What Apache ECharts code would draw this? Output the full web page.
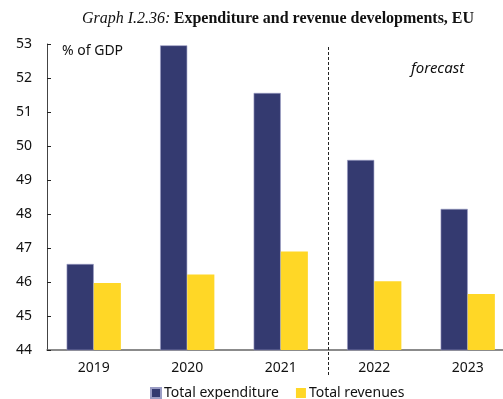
<!DOCTYPE html>
<html><head><meta charset="utf-8">
<script src="https://cdn.jsdelivr.net/npm/echarts@6/dist/echarts.min.js"></script>
<style>html,body{margin:0;padding:0;background:#fff}#c{width:503px;height:399px}</style>
</head><body><div id="c"></div>
<script>
const categories = ['2019','2020','2021','2022','2023'];
const expenditure = [46.53, 52.96, 51.56, 49.59, 48.15];
const revenues = [45.97, 46.22, 46.90, 46.02, 45.65];
const seriesNames = ['Total expenditure','Total revenues'];
const yMin = 44, yMax = 53, yStep = 1;
const forecastStart = '2022';

const FONT = 'Noto Sans';
const chart = echarts.init(document.getElementById('c'), null, {renderer:'canvas'});
const option = {
  animation:false,
  backgroundColor:'#fff',
  grid:{left:47, right:-11.5, top:44, bottom:49, containLabel:false, outerBoundsMode:'none'},
  legend:{
    top:386, left:150, padding:0, itemWidth:10, itemHeight:10, itemGap:17,
    icon:'rect',
    textStyle:{fontFamily:FONT, fontSize:14, color:'#111', padding:[0,0,0,-2]},
    data:seriesNames
  },
  xAxis:{
    type:'category', data:categories,
    axisLine:{lineStyle:{color:'#666', width:1.5}},
    axisTick:{inside:true, length:5, lineStyle:{color:'#222'}},
    axisLabel:{fontFamily:FONT, fontSize:14, color:'#111', margin:11}
  },
  yAxis:{
    type:'value', min:yMin, max:yMax, interval:yStep,
    axisLine:{show:true, lineStyle:{color:'#444', width:1}},
    axisTick:{show:true, inside:true, length:4, lineStyle:{color:'#222'}},
    splitLine:{show:false},
    axisLabel:{fontFamily:FONT, fontSize:14, color:'#111', margin:15}
  },
  series:[
    {name:seriesNames[0], type:'bar', data:expenditure, barGap:'0%', barCategoryGap:'42%',
     itemStyle:{color:'#343a70', borderColor:'#9a9cc4', borderWidth:0.6}},
    {name:seriesNames[1], type:'bar', data:revenues,
     itemStyle:{color:'#ffd726'}}
  ]
};
chart.setOption(option);
const idx = categories.indexOf(forecastStart);
const x1 = chart.convertToPixel({xAxisIndex:0}, categories[idx-1]);
const x2 = chart.convertToPixel({xAxisIndex:0}, categories[idx]);
const xd = Math.round((x1+x2)/2)+0.5;
const yTop = chart.convertToPixel({yAxisIndex:0}, yMax);
chart.setOption({graphic:[
  {type:'line', shape:{x1:xd, y1:yTop+3, x2:xd, y2:376}, style:{stroke:'#222', lineWidth:1, lineDash:[3,2]}, z:10},
  {type:'text', left:82, top:11, style:{
    rich:{i:{fontFamily:'Liberation Serif', fontStyle:'italic', fontSize:16, fill:'#111'},
          b:{fontFamily:'Liberation Serif', fontWeight:'bold', fontSize:16, fill:'#111'}},
    text:'{i|Graph I.2.36:} {b|Expenditure and revenue developments, EU}'}},
  {type:'text', left:62, top:44, style:{text:'% of GDP', fontFamily:FONT, fontSize:14, fill:'#111'}},
  {type:'text', left:411, top:61, style:{text:'forecast', fontFamily:FONT, fontStyle:'italic', fontSize:15, fill:'#111'}}
]});
</script></body></html>
